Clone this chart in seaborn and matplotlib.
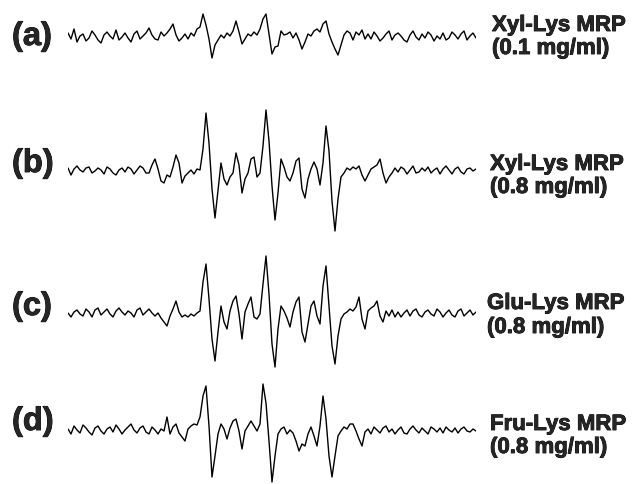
import numpy as np
import pandas as pd
import seaborn as sns
import matplotlib.pyplot as plt
import matplotlib.patheffects as pe

sns.set_style('white')
plt.rcParams['font.family'] = ['Liberation Sans', 'DejaVu Sans']

# magnetic field sweep (G), 137 points
field = 3450 + 0.75 * np.arange(137)

# EPR signal intensities (arbitrary units)
xyl_lys_01 = [4, -2, 8, -5, 1, 3, -4, -1, 6, 2,
              -3, -6, 2, 5, 1, -2, 7, -3, 0, 4,
              -1, -5, 3, 6, -2, 1, 4, 9, 2, -2,
              -3, 5, 1, 4, 8, 13, 2, -4, -1, 3,
              -2, 4, 1, 8, 10, 23, 12, -2, -21, -8,
              -3, 2, -1, 4, 1, 6, 16, 5, -7, -2,
              3, 1, 5, 2, 8, 18, 23, 3, -17, -10,
              -9, 6, 2, 3, 5, -1, 4, -3, -12, -5,
              3, 1, 6, 8, 5, 13, 16, 3, -5, -12,
              -18, -8, 2, 6, 4, -3, 5, 2, 7, -2,
              3, -2, 5, 1, -4, -1, 3, 6, -3, 2,
              4, 1, -3, -5, 2, 6, 0, -3, 3, -1,
              5, 2, -4, 1, -2, 4, -3, -1, 5, 2,
              -2, 3, 6, -3, 1, 4, -1]

xyl_lys_08 = [3, -4, 2, 5, 1, -1, 3, 4, -2, 0,
              3, 1, -3, 4, 2, -2, -4, 1, 3, -1,
              4, 2, -3, 1, 5, 3, -2, -2, 6, 12,
              2, -10, -12, -4, -6, 4, 16, 8, -12, -5,
              -2, 1, -3, 2, 1, 22, 58, 28, -18, -47,
              -20, 8, -8, -14, -6, -2, 18, 6, -22, -8,
              -2, 12, 14, -6, -2, 25, 61, 30, -15, -49,
              -22, 12, 4, -6, -10, -2, 10, 13, -18, -27,
              -8, 2, 9, 2, -14, 8, 45, 20, -30, -60,
              -28, -6, -2, 3, 1, 4, 2, 5, -4, -10,
              -4, 2, 4, 6, 12, -2, -12, -6, -2, 3,
              -1, 4, 2, -3, 1, 5, -2, -1, 3, 0,
              4, -2, 1, 3, -3, 2, 5, 1, -3, 2,
              4, -1, -3, 2, 3, 0, 2]

glu_lys_08 = [1, -3, 2, 4, 0, -2, 5, 2, -3, 4,
              6, -1, 2, 5, 0, -3, 3, 6, 2, -1,
              3, 1, -3, 4, 6, -1, 2, 5, 1, -2,
              1, -4, -8, -12, -2, 5, 13, 2, -3, -1,
              -3, 0, -2, 1, 3, 32, 50, 15, -25, -47,
              -18, 8, -8, -15, 3, 13, 18, 0, -25, 2,
              10, 17, -3, -5, 0, 30, 58, 20, -30, -53,
              -15, 8, 3, -4, -13, 2, 12, 17, -18, -28,
              -10, 8, 13, -2, -10, 28, 48, 8, -32, -50,
              -22, -5, 0, 2, 5, 3, 7, 17, -5, -15,
              3, 6, 8, 13, -2, -8, 3, -2, 4, -3,
              2, -3, 1, 4, -2, 3, 5, -1, -3, 2,
              4, 0, -2, 5, 2, -3, 1, 4, -1, -3,
              3, 5, -2, 1, 4, -1, 2]

fru_lys_08 = [2, -3, 5, 1, -2, 6, 3, -1, -4, 3,
              5, 0, -3, 2, 4, -1, 6, 2, -3, 1,
              4, 7, 1, -2, 3, 5, -1, -3, 4, 1,
              -3, 2, 0, 14, -3, 4, 7, -2, -6, -10,
              2, 5, 7, 6, 14, 35, 45, 5, -46, -25,
              -3, 7, 2, -8, 3, 10, 12, 0, -18, 0,
              5, 10, 5, 0, 7, 47, 28, -10, -51, -25,
              -3, 2, 4, -3, 1, -2, -10, -20, -13, -15,
              -3, 4, -5, -15, 5, 35, 12, -25, -46, -25,
              -5, 0, 4, 2, 7, 7, 0, -8, -15, -1,
              2, -3, 4, 1, -2, 3, 5, -1, 2, -3,
              1, 4, -2, -3, 2, 5, 1, -2, 3, 0,
              -3, 4, 2, -1, 3, -2, 4, 1, -1, 3,
              -2, 2, 4, 0, -1, 2, 0]

panels = ['(a)', '(b)', '(c)', '(d)']
samples = ['Xyl-Lys MRP', 'Xyl-Lys MRP', 'Glu-Lys MRP', 'Fru-Lys MRP']
concs = ['(0.1 mg/ml)', '(0.8 mg/ml)', '(0.8 mg/ml)', '(0.8 mg/ml)']
spectra = [xyl_lys_01, xyl_lys_08, glu_lys_08, fru_lys_08]

W, H = 636, 485
fig = plt.figure(figsize=(W / 100, H / 100), dpi=100)

# layout in pixels: trace baseline, panel-label baseline, two sample-label baselines, sample x
baselines = [38, 172, 315, 432]
tag_y = [46, 173, 316, 431]
name_y = [32, 171, 310, 431]
conc_y = [55, 194, 334, 454]
name_x = [492, 490, 487, 490]
heavy = [pe.withStroke(linewidth=0.6, foreground='black')]

for k, spec in enumerate(spectra):
    half = 70
    ax = fig.add_axes([68 / W, 1 - (baselines[k] + half) / H, 408 / W, 2 * half / H])
    df = pd.DataFrame({'field': field, 'signal': spec})
    sns.lineplot(data=df, x='field', y='signal', ax=ax, color='black',
                 linewidth=1.0, estimator=None)
    ax.set_xlim(field[0], field[-1])
    ax.set_ylim(-half, half)
    ax.axis('off')

    fig.text(12 / W, 1 - tag_y[k] / H, panels[k], fontsize=23.5, fontweight='bold',
             ha='left', va='baseline', path_effects=heavy)
    fig.text(name_x[k] / W, 1 - name_y[k] / H, samples[k], fontsize=16,
             fontweight='bold', ha='left', va='baseline', path_effects=heavy)
    fig.text(name_x[k] / W, 1 - conc_y[k] / H, concs[k], fontsize=16,
             fontweight='bold', ha='left', va='baseline', path_effects=heavy)

fig.savefig('out.png', dpi=100)
